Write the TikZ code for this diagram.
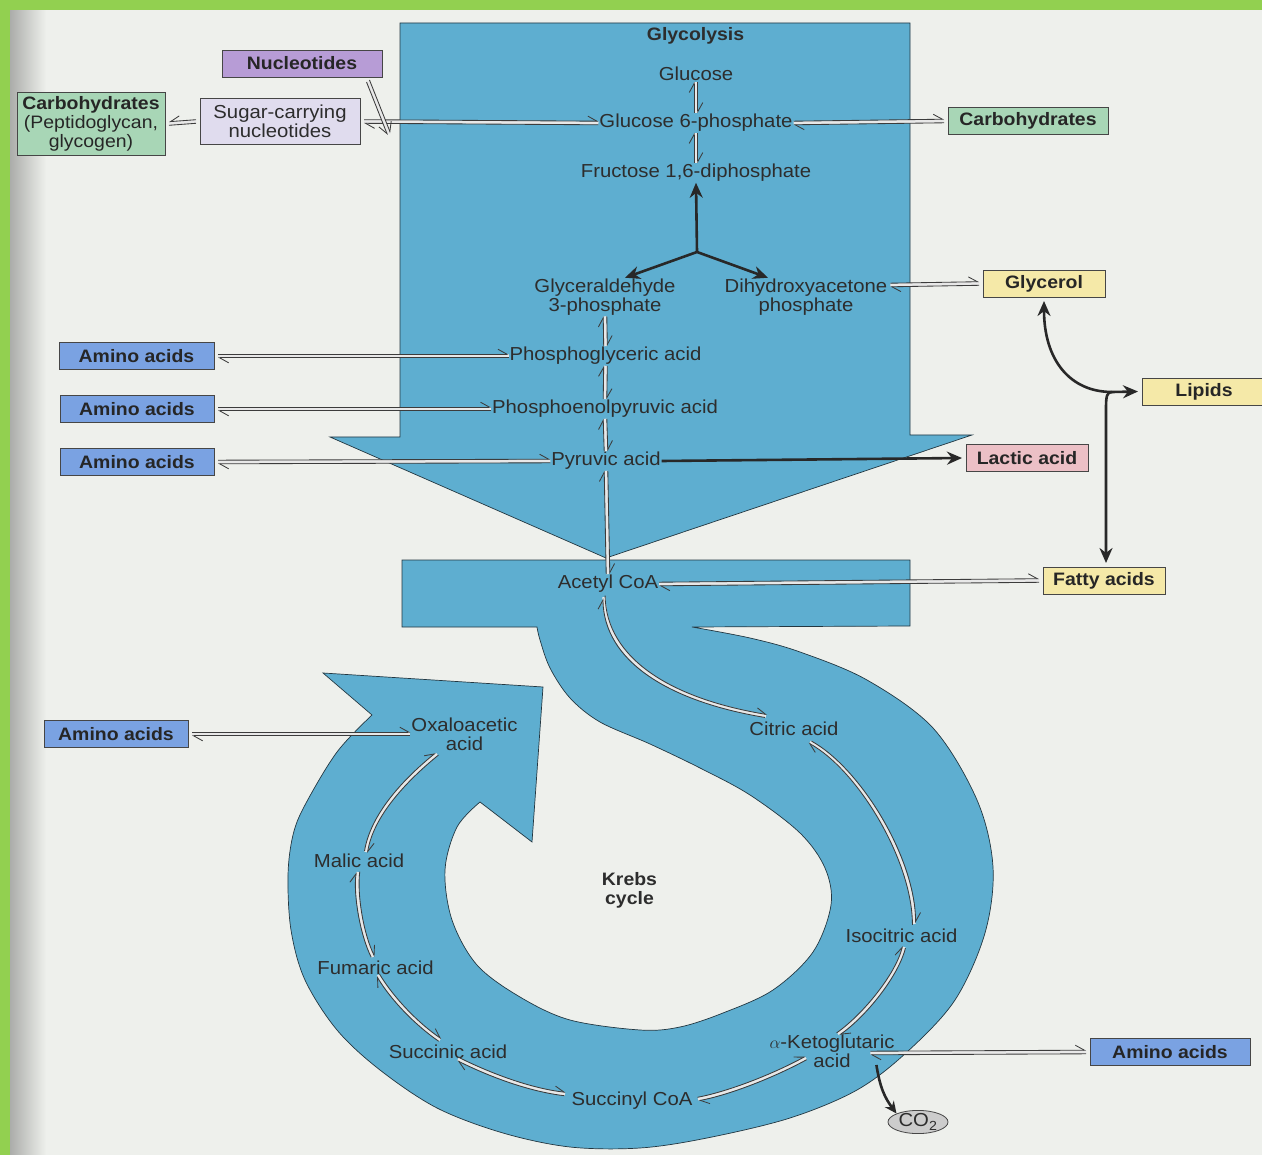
\documentclass[tikz,border=0pt]{standalone}
\usepackage{fontspec}
\setmainfont{Liberation Sans}[FakeStretch=1.08]
\usetikzlibrary{arrows.meta,shapes.geometric}
\definecolor{pagec}{RGB}{238,240,236}
\definecolor{grnband}{RGB}{146,208,80}
\definecolor{bluef}{RGB}{94,174,208}
\definecolor{bluel}{RGB}{35,55,65}
\definecolor{purp}{RGB}{183,156,214}
\definecolor{lav}{RGB}{224,220,238}
\definecolor{grn}{RGB}{168,214,182}
\definecolor{yel}{RGB}{245,233,168}
\definecolor{pnk}{RGB}{236,192,198}
\definecolor{blu}{RGB}{122,162,226}
\definecolor{txtc}{RGB}{45,45,45}
\definecolor{eqc}{RGB}{60,60,60}
\definecolor{blkc}{RGB}{40,40,40}
\definecolor{boxl}{RGB}{70,70,70}
% equilibrium pair: #1 path spec, #2,#3 offset to the left of travel
\newcommand\eqpair[3]{%
  \draw[tube] #1;
  \draw[eqa, transform canvas={shift={(#2,#3)}}] #1;
  \draw[eqb, transform canvas={shift={({-(#2)},{-(#3)})}}] #1;
}
\begin{document}
\begin{tikzpicture}[x=1pt,y=-1pt,
  txt/.style={font=\fontsize{18.8}{19}\selectfont, text=txtc, inner sep=1pt, outer sep=0pt, align=center},
  btxt/.style={font=\fontsize{18}{19}\selectfont\bfseries, text=txtc, inner sep=1pt, outer sep=0pt, align=center},
  box/.style={draw=boxl, line width=0.8pt, font=\fontsize{18}{19}\selectfont\bfseries, text=black!85, inner sep=0pt, outer sep=4pt, align=center, minimum height=27pt, minimum width=122pt},
  blueshape/.style={fill=bluef, draw=bluel, line width=0.7pt},
  tube/.style={draw=white!82!gray, line width=3.2pt},
  eqline/.style={draw=eqc, line width=0.85pt},
  eqa/.style={eqline, -{Straight Barb[harpoon,length=9pt,width=10pt]}},
  eqb/.style={eqline, {Straight Barb[harpoon,length=9pt,width=10pt]}-},
  blk/.style={draw=blkc, line width=2.6pt, -{Stealth[length=15pt,width=13pt]}},
]
\useasboundingbox (0,0) rectangle (1262,1155);
% page
\fill[pagec] (0,0) rectangle (1262,1155);
\shade[left color=black!28!pagec, right color=pagec] (10,0) rectangle (46,1155);
\fill[grnband] (0,0) rectangle (1262,10);
\fill[grnband] (0,0) rectangle (10,1155);

% glycolysis arrow
\filldraw[blueshape] (400,23) -- (910,23) -- (910,435) -- (972,435) -- (606,558) -- (330,437) -- (400,437) -- cycle;
% acetyl bar, S band, Krebs ring
\filldraw[blueshape] (402,560) -- (910,560) -- (910,626) -- (692,627)
  -- plot[smooth,tension=0.55] coordinates {(692,627) (750,638) (800,652) (867,680) (933,728) (977,800) (993,867) (985,933) (955,1000) (907,1052) (857,1090) (790,1118) (707,1138) (640,1148) (570,1147) (503,1133) (437,1108) (380,1070) (337,1030) (305,980) (291,930) (288,875) (293,835) (305,805) (337,752) (372,715)}
  -- (323,673) -- (543,687) -- (532,842) -- (480,802)
  -- plot[smooth,tension=0.55] coordinates {(480,802) (457,827) (445,870) (452,920) (477,965) (520,997) (570,1020) (640,1030) (680,1027) (723,1013) (773,990) (813,952) (831,905) (825,868) (800,833) (750,795) (700,768) (650,744) (600,722) (570,698) (550,668) (540,640) (537,627)}
  -- (402,627) -- cycle;

% boxes
\node[box, fill=purp, minimum width=160pt] (nuc) at (302,63.5) {Nucleotides};
\node[box, fill=grn, minimum width=148pt, minimum height=63pt] (carbL) at (91,123.5) {Carbohydrates\\{\mdseries(Peptidoglycan,}\\{\mdseries glycogen)}};
\node[box, fill=lav, minimum width=160pt, minimum height=46pt, font=\fontsize{18.8}{19}\selectfont, text=txtc] (sugar) at (280,121.5) {Sugar-carrying\\nucleotides};
\node[box, fill=grn, minimum width=160pt] (carbR) at (1028,121) {Carbohydrates};
\node[box, fill=yel] (glycerol) at (1044,283.5) {Glycerol};
\node[box, fill=yel, minimum width=124pt] (lipids) at (1204,391.5) {Lipids};
\node[box, fill=pnk] (lactic) at (1027,458) {Lactic acid};
\node[box, fill=yel] (fatty) at (1104,580.5) {Fatty acids};
\node[box, fill=blu, minimum width=155pt] (aa1) at (136.5,356) {Amino acids};
\node[box, fill=blu, minimum width=154pt] (aa2) at (137,409) {Amino acids};
\node[box, fill=blu, minimum width=154pt] (aa3) at (137,462) {Amino acids};
\node[box, fill=blu, minimum width=144pt] (aa4) at (116,734) {Amino acids};
\node[box, fill=blu, minimum width=160pt] (aa5) at (1170,1052) {Amino acids};
\node[ellipse, draw=boxl, fill=gray!40, line width=0.8pt, minimum width=60pt, minimum height=22pt, inner sep=0pt, font=\fontsize{18.8}{19}\selectfont, text=txtc] (co2) at (918,1122) {CO\textsubscript{2}};

% text labels
\node[btxt] (glyc) at (695.5,36) {Glycolysis};
\node[txt] (glc) at (696,74) {Glucose};
\node[txt] (g6p) at (696,123) {Glucose 6-phosphate};
\node[txt] (fdp) at (696,173) {Fructose 1,6-diphosphate};
\node[txt] (g3p) at (605,297) {Glyceraldehyde\\3-phosphate};
\node[txt] (dhap) at (806,297) {Dihydroxyacetone\\phosphate};
\node[txt] (pga) at (605.5,356) {Phosphoglyceric acid};
\node[txt] (pep) at (605,409) {Phosphoenolpyruvic acid};
\node[txt] (pyr) at (606,461) {Pyruvic acid};
\node[txt] (acetyl) at (608,584) {Acetyl CoA};
\node[txt] (citric) at (794,729) {Citric acid};
\node[txt] (isoc) at (901.5,936) {Isocitric acid};
\node[txt] (akg) at (832,1051) {$\alpha$-Ketoglutaric\\acid};
\node[txt] (succoa) at (632,1101) {Succinyl CoA};
\node[txt] (succ) at (448,1052) {Succinic acid};
\node[txt] (fum) at (375.5,968) {Fumaric acid};
\node[txt] (mal) at (359,861) {Malic acid};
\node[txt] (oxa) at (464.5,734) {Oxaloacetic\\acid};
\node[btxt] (krebs) at (629.5,890) {Krebs\\cycle};

% helper coordinates
\coordinate (dhapE) at ([shift={(2,-12)}]dhap.east);
\coordinate (akgE) at ([shift={(-25,2)}]akg.east);
\coordinate (nucS) at ([xshift=-18pt]nuc.south east);
\coordinate (nucE) at ([shift={(87,53)}]nuc.south);
\coordinate (jn) at (697,252);
\coordinate (lj) at (1112,392);

% gray equilibrium arrows (straight)
\eqpair{(sugar.east) -- (g6p.west)}{0}{-1.8}
\eqpair{(g6p.east) -- (carbR.west)}{0}{-1.8}
\eqpair{(glc.south) -- (g6p.north)}{1.8}{0}
\eqpair{(g6p.south) -- (fdp.north)}{1.8}{0}
\eqpair{(g3p.south) -- (pga.north)}{1.8}{0}
\eqpair{(pga.south) -- (pep.north)}{1.8}{0}
\eqpair{(pep.south) -- (pyr.north)}{1.8}{0}
\eqpair{(pyr.south) -- (acetyl.north)}{1.8}{0}
\eqpair{(dhapE) -- (glycerol.west)}{0}{-1.8}
\eqpair{(acetyl.east) -- (fatty.west)}{0}{-1.8}
\eqpair{(aa1.east) -- (pga.west)}{0}{-1.8}
\eqpair{(aa2.east) -- (pep.west)}{0}{-1.8}
\eqpair{(aa3.east) -- (pyr.west)}{0}{-1.8}
\eqpair{(aa4.east) -- (oxa.west)}{0}{-1.8}
\eqpair{(akgE) -- (aa5.west)}{0}{-1.8}

% single gray arrows
\draw[tube] (sugar.west) -- (carbL.east);
\draw[eqline, -{Straight Barb[harpoon,swap,length=9pt,width=10pt]}, transform canvas={shift={(0,-1.8)}}] (sugar.west) -- (carbL.east);
\draw[eqline, transform canvas={shift={(0,1.8)}}] (sugar.west) -- (carbL.east);
\draw[tube] (nucS) -- (nucE);
\draw[eqa, transform canvas={shift={(1.48,-1.03)}}] (nucS) -- (nucE);
\draw[eqline, -{Straight Barb[harpoon,swap,length=9pt,width=10pt]}, transform canvas={shift={(-1.48,1.03)}}] (nucS) -- (nucE);

% Krebs cycle equilibrium arrows (curved)
\eqpair{([shift={(-4,13)}]acetyl.center) .. controls (605,660) and (670,700) .. ([shift={(-28,-13)}]citric.center)}{1.07}{-1.45}
\eqpair{([shift={(16,13)}]citric.center) .. controls (860,770) and (914,860) .. ([shift={(12.5,-12)}]isoc.center)}{1.56}{-0.89}
\eqpair{([shift={(2.5,11)}]isoc.center) .. controls (897,975) and (865,1015) .. ([shift={(6,-17)}]akg.center)}{1.43}{1.09}
\eqpair{([shift={(-26,7)}]akg.center) .. controls (775,1075) and (730,1093) .. ([shift={(66,-2)}]succoa.center)}{0.64}{1.68}
\eqpair{([shift={(-67,-7)}]succoa.center) .. controls (530,1090) and (490,1075) .. ([shift={(10,7)}]succ.center)}{-0.56}{1.71}
\eqpair{([shift={(-8,-12)}]succ.center) .. controls (418,1025) and (393,1000) .. ([shift={(2.5,7)}]fum.center)}{-1.30}{1.24}
\eqpair{([shift={(-2.5,-11)}]fum.center) .. controls (362,935) and (355,895) .. ([shift={(-1,11)}]mal.center)}{-1.77}{0.31}
\eqpair{([shift={(7,-9)}]mal.center) .. controls (372,815) and (405,780) .. ([shift={(-27.5,20)}]oxa.center)}{-1.46}{-1.06}

% thick black arrows
\draw[blk] (jn) -- (fdp.south);
\draw[blk] (jn) -- ([xshift=20pt]g3p.north);
\draw[blk] (jn) -- ([xshift=-38pt]dhap.north);
\draw[blk] (pyr.east) -- (lactic.west);
\draw[blk, {Stealth[length=15pt,width=13pt]}-{Stealth[length=15pt,width=13pt]}] (glycerol.south) .. controls (1044,360) and (1070,392) .. (lj) -- (lipids.west);
\draw[blk] (lj) .. controls (1107,392) and (1106,396) .. (1106,408) -- ([xshift=2pt]fatty.north);
\draw[blk, -{Stealth[length=12pt,width=11pt]}] ([shift={(-19,14)}]akg.east) .. controls (880,1088) and (885,1098) .. (co2.north west);
\end{tikzpicture}
\end{document}
